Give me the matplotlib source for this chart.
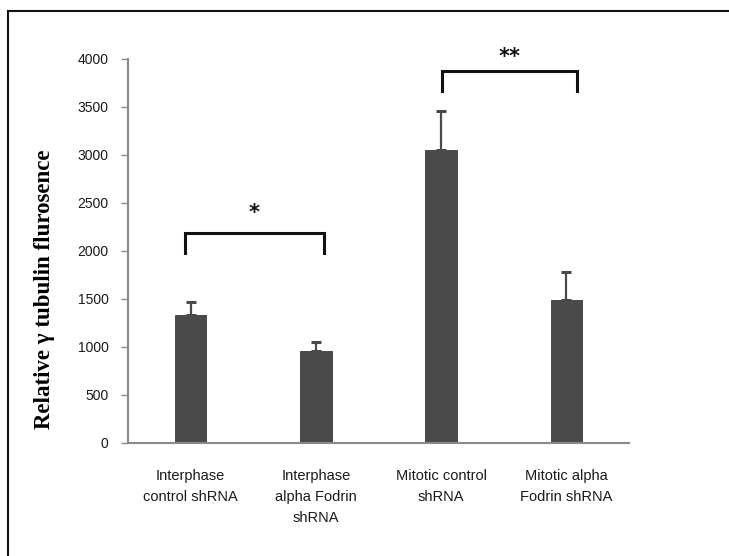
import matplotlib
matplotlib.use("Agg")
import matplotlib.pyplot as plt
from matplotlib.patches import Rectangle

# data
categories = ["Interphase\ncontrol shRNA", "Interphase\nalpha Fodrin\nshRNA",
              "Mitotic control\nshRNA", "Mitotic alpha\nFodrin shRNA"]
means = [1330, 960, 3050, 1490]
errors = [135, 90, 410, 290]
yticks = [0, 500, 1000, 1500, 2000, 2500, 3000, 3500, 4000]

# significance brackets: (x_left, x_right, y_top, y_leg, label, y_label)
brackets = [(-0.045, 1.065, 2190, 1980, "*", 2400),
            (2.005, 3.085, 3875, 3665, "**", 4020)]

BAR = "#4a4a4a"
TICK_FONT = ["Liberation Sans", "DejaVu Sans"]

fig = plt.figure(figsize=(7.29, 5.56), dpi=100)
ax = fig.add_axes([128/729, 1-443/556, 501/729, 384/556])

x = list(range(len(categories)))
ax.bar(x, means, width=0.25, color=BAR, edgecolor="#3a3a3a", linewidth=0.6, zorder=2)
ax.errorbar(x, means, yerr=[[0]*len(errors), errors], fmt="none", ecolor=BAR,
            elinewidth=1.6, capsize=3.5, capthick=2.2, zorder=3)

ax.set_xlim(-0.5, 3.5)
ax.set_ylim(0, 4000)
ax.set_yticks(yticks)
ax.set_yticklabels([str(t) for t in yticks], family=TICK_FONT, fontsize=10, color="#1a1a1a")
ax.set_xticks(x)
ax.set_xticklabels(categories, family=TICK_FONT, fontsize=10.5, color="#1a1a1a", linespacing=1.6)
ax.tick_params(axis="x", length=0, pad=19)
ax.tick_params(axis="y", length=5, width=1, color="#8a8a8a", pad=9)

for side in ["top", "right"]:
    ax.spines[side].set_visible(False)
for side in ["left", "bottom"]:
    ax.spines[side].set_color("#8a8a8a")
    ax.spines[side].set_linewidth(1.5)

ax.set_ylabel("Relative \u03b3 tubulin flurosence", family=["Liberation Serif", "DejaVu Serif"],
              fontweight="bold", fontsize=16.5)
ax.yaxis.set_label_coords(-0.146, 0.40)

for xl, xr, yt, yl, lab, ylab in brackets:
    ax.plot([xl, xl, xr, xr], [yl, yt, yt, yl], color="#111111", lw=2.2,
            solid_joinstyle="miter", clip_on=False, zorder=4)
    ax.text((xl + xr) / 2, ylab, lab, ha="center", va="center", fontsize=15,
            fontweight="bold", color="#111111", clip_on=False)

# outer frame (left and top edges visible)
fig.patches.append(Rectangle((8/729, -0.2), 1.2, 1.2 - 11/556, transform=fig.transFigure,
                             fill=False, edgecolor="#111111", linewidth=1.5))

fig.savefig("out.png", dpi=100)
